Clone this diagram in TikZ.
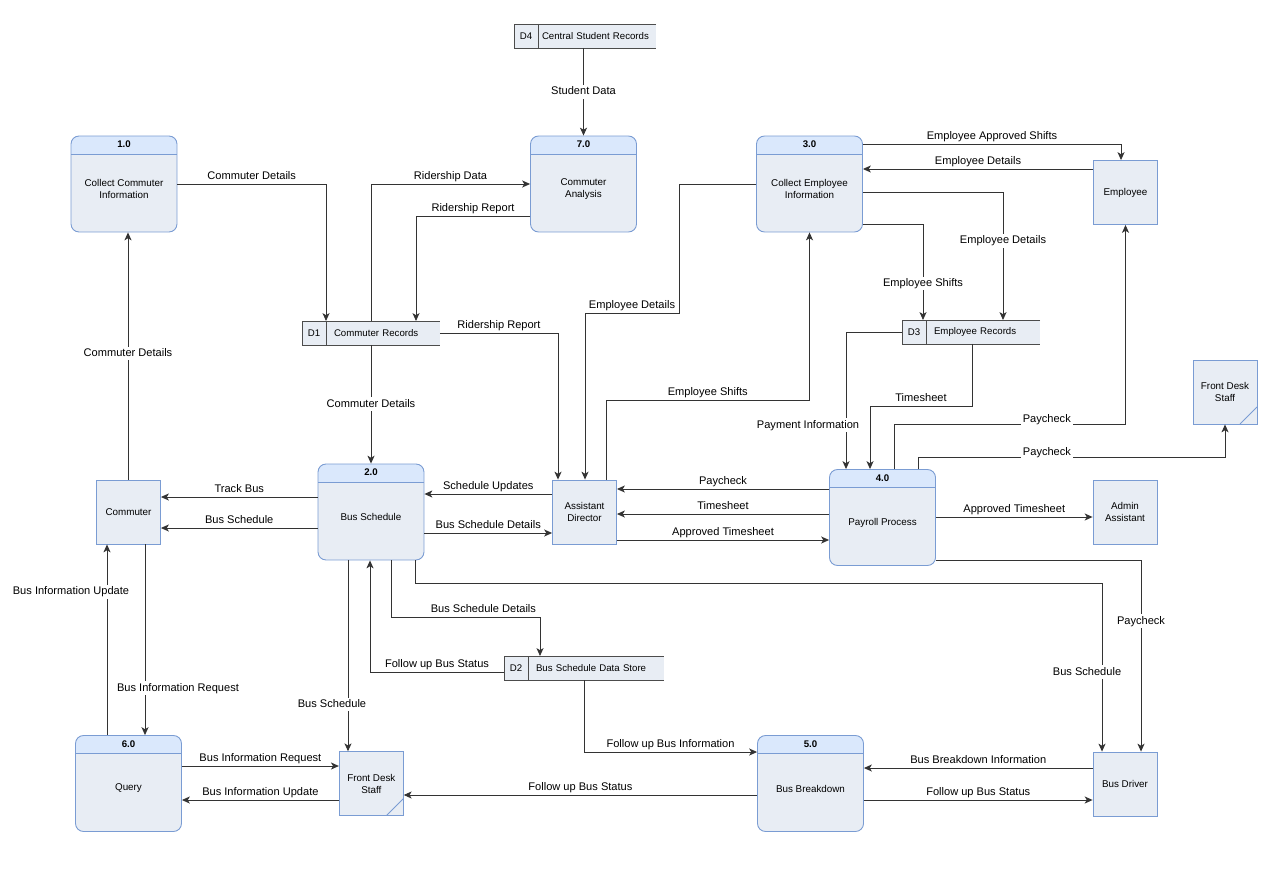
\documentclass[tikz,border=0pt]{standalone}
\usepackage{fontspec}
\setmainfont{Liberation Sans}
\usetikzlibrary{positioning, arrows.meta}
\definecolor{procline}{HTML}{7A9CD3}
\definecolor{prochead}{HTML}{DAE8FC}
\definecolor{procbody}{HTML}{E8EDF4}
\definecolor{storefill}{HTML}{E8EDF4}
\definecolor{flowline}{HTML}{333333}

\begin{document}
\begin{tikzpicture}[
        x=0.02cm, y=-0.02cm,
        process/.style={draw=procline, fill=procbody, line width=0.5pt, rounded corners=0.16cm, minimum width=2.12cm, minimum height=1.92cm,
            path picture={\fill[prochead, sharp corners] (path picture bounding box.north west) rectangle ([yshift=-0.36cm]path picture bounding box.north east);
                \draw[procline, line width=0.4pt, sharp corners] ([yshift=-0.36cm]path picture bounding box.north west) -- ([yshift=-0.36cm]path picture bounding box.north east);}},
        procnum/.style={anchor=center, yshift=-0.18cm, inner sep=0pt, font=\bfseries\fontsize{5.5}{6.8}\selectfont},
        proctext/.style={anchor=center, yshift=-1.07cm, inner sep=0pt, align=center, font=\fontsize{5.6}{6.8}\selectfont},
        entity/.style={draw=procline, fill=procbody, line width=0.5pt, minimum width=1.28cm, minimum height=1.28cm, inner sep=0pt, align=center, font=\fontsize{5.6}{6.8}\selectfont},
        desk/.style={entity, path picture={\draw[procline, line width=0.5pt] ([xshift=-0.34cm]path picture bounding box.south east) -- ([yshift=0.34cm]path picture bounding box.south east);}},
        store/.style={fill=storefill, minimum height=0.48cm, outer sep=0pt, inner ysep=0pt, inner xsep=0.16cm, align=left, font=\fontsize{5.5}{6.8}\selectfont},
        storeid/.style={store, inner xsep=0pt, align=center, minimum width=0.48cm},
        storeline/.style={draw=black!70, line width=0.5pt},
        arrow/.style={draw=flowline, line width=0.5pt, -{Stealth[length=4.5pt, width=4pt, inset=1.2pt]}},
        lbl/.style={inner sep=1pt, text height=4.6pt, text depth=1.3pt, font=\fontsize{6.3}{7.5}\selectfont},
        onl/.style={lbl, fill=white}
    ]
    \path[use as bounding box, fill=white] (0,0) rectangle (1266,878);
%
    % Nodes
    \node[process, label={[procnum]north:1.0}, label={[proctext]north:Collect Commuter\\Information}] (p1) at (124,184) {};
    \node[process, label={[procnum]north:7.0}, label={[proctext]north:Commuter\\Analysis}] (p7) at (583.5,184) {};
    \node[process, label={[procnum]north:3.0}, label={[proctext]north:Collect Employee\\Information}] (p3) at (809.5,184) {};
    \node[process, label={[procnum]north:2.0}, label={[proctext]north:Bus Schedule}] (p2) at (371,512) {};
    \node[process, label={[procnum]north:4.0}, label={[proctext]north:Payroll Process}] (p4) at (882.5,517.5) {};
    \node[process, label={[procnum]north:6.0}, label={[proctext]north:Query}] (p6) at (128.5,783.5) {};
    \node[process, label={[procnum]north:5.0}, label={[proctext]north:Bus Breakdown}] (p5) at (810.5,783.5) {};
%
    \node[entity] (com) at (128.5,512) {Commuter};
    \node[entity] (emp) at (1125.5,192.5) {Employee};
    \node[desk] (fds1) at (1225,392) {Front Desk\\Staff};
    \node[entity] (ad) at (584.5,512) {Assistant\\Director};
    \node[entity] (aa) at (1125,512) {Admin\\Assistant};
    \node[desk] (fds2) at (371.3,783.7) {Front Desk\\Staff};
    \node[entity] (bd) at (1125,784) {Bus Driver};
%
    \node[store, inner xsep=0.08cm, text width=2.2cm] (d4) at (597,36) {Central Student Records};
    \node[storeid, left=0pt of d4] (d4-id) {D4};
    \node[store, text width=1.96cm] (d1) at (383,333) {Commuter Records};
    \node[storeid, left=0pt of d1] (d1-id) {D1};
    \node[store, text width=1.96cm] (d3) at (983,332) {Employee Records};
    \node[storeid, left=0pt of d3] (d3-id) {D3};
    \node[store, text width=2.4cm] (d2) at (596,668) {Bus Schedule Data Store};
    \node[storeid, left=0pt of d2] (d2-id) {D2};
    \foreach \s in {d1,d2,d3,d4}
        \draw[storeline] (\s.north east) -- (\s-id.north west) -- (\s-id.south west) -- (\s.south east)
            (\s-id.north east) -- (\s-id.south east);
%
    % Arrows
    \draw[arrow] (p1) -| node[lbl, pos=0.25, above] {Commuter Details} (d1-id.north east);
    \draw[arrow] (d1.north -| p2) |- node[lbl, pos=0.75, above] {Ridership Data} (p7);
    \draw[arrow] (d1.south -| p2) -- node[onl] {Commuter Details} (p2);
    \draw[arrow] (p7.west |- 0,216) -| node[lbl, pos=0.25, above] {Ridership Report} (416,0 |- d1.north);
    \draw[arrow] (d1.east) -| node[lbl, pos=0.25, above] {Ridership Report} (ad.north -| 558,0);
    \draw[arrow] (d4.south -| p7) -- node[onl] {Student Data} (p7);
%
    \draw[arrow] (p3) -| (679,313) -| node[lbl, pos=0.25, above] {Employee Details} (ad.north -| 585,0);
    \draw[arrow] (ad.north -| 606,0) |- node[lbl, pos=0.75, above] {Employee Shifts} (p3.south |- 0,400) -- (p3.south);
    \draw[arrow] (p3.east |- 0,144) -| node[lbl, pos=0.25, above] {Employee Approved Shifts} (emp.north -| 1121,0);
    \draw[arrow] (emp.west |- 0,169) -- node[lbl, above] {Employee Details} (p3.east |- 0,169);
    \draw[arrow] (p3.east |- 0,192) -| node[onl, pos=0.69] {Employee Details} (d3.north -| 1003,0);
    \draw[arrow] (p3.east |- 0,224) -| node[onl, pos=0.81] {Employee Shifts} (d3.north -| 923,0);
%
    \draw[arrow] (d3-id.west) -| node[onl, pos=0.84, xshift=-0.76cm] {Payment Information} (p4.north -| 846,0);
    \draw[arrow] (d3.south -| 972,0) |- node[lbl, pos=0.75, above] {Timesheet} (870,406) -- (p4.north -| 870,0);
    \draw[arrow] (p4.north -| 894,0) |- node[onl, pos=0.83, yshift=0.08cm] {Paycheck} (emp.south |- 0,424) -- (emp.south);
    \draw[arrow] (p4.north -| 918,0) |- node[onl, pos=0.71, yshift=0.08cm] {Paycheck} (fds1.south |- 0,457) -- (fds1.south);
    \draw[arrow] (p4.west |- 0,489) -- node[lbl, above] {Paycheck} (ad.east |- 0,489);
    \draw[arrow] (p4.west |- 0,514) -- node[lbl, above] {Timesheet} (ad.east |- 0,514);
    \draw[arrow] (ad.east |- 0,540) -- node[lbl, above] {Approved Timesheet} (p4.west |- 0,540);
    \draw[arrow] (p4.east |- 0,517) -- node[lbl, above] {Approved Timesheet} (aa.west |- 0,517);
    \draw[arrow] (p4.east |- 0,560) -| node[onl, pos=0.66] {Paycheck} (bd.north -| 1141,0);
%
    \draw[arrow] (p2.south -| 415,0) |- (1102,583) -- node[onl, pos=0.53, xshift=-0.3cm] {Bus Schedule} (bd.north -| 1102,0);
    \draw[arrow] (ad.west |- 0,494) -- node[lbl, above] {Schedule Updates} (p2.east |- 0,494);
    \draw[arrow] (p2.east |- 0,533) -- node[lbl, above] {Bus Schedule Details} (ad.west |- 0,533);
    \draw[arrow] (p2.west |- 0,497) -- node[lbl, above] {Track Bus} (com.east |- 0,497);
    \draw[arrow] (p2.west |- 0,528) -- node[lbl, above] {Bus Schedule} (com.east |- 0,528);
    \draw[arrow] (p2.south -| 391,0) |- node[lbl, pos=0.81, above] {Bus Schedule Details} (540,617) -- (d2.north -| 540,0);
    \draw[arrow] (d2-id.west |- 0,672) -| node[lbl, pos=0.25, above] {Follow up Bus Status} (p2.south -| 370,0);
    \draw[arrow] (p2.south -| 348,0) -- node[onl, pos=0.755, xshift=-0.32cm] {Bus Schedule} (fds2.north -| 348,0);
    \draw[arrow] (d2.south -| 584,0) |- node[lbl, pos=0.75, above] {Follow up Bus Information} (p5.west |- 0,752);
%
    \draw[arrow] (bd.west |- 0,768) -- node[lbl, above] {Bus Breakdown Information} (p5.east |- 0,768);
    \draw[arrow] (p5.east |- 0,800) -- node[lbl, above] {Follow up Bus Status} (bd.west |- 0,800);
    \draw[arrow] (p5.west |- 0,795) -- node[lbl, above] {Follow up Bus Status} (fds2.east |- 0,795);
    \draw[arrow] (p6.east |- 0,766) -- node[lbl, above] {Bus Information Request} (fds2.west |- 0,766);
    \draw[arrow] (fds2.west |- 0,800) -- node[lbl, above] {Bus Information Update} (p6.east |- 0,800);
    \draw[arrow] (com.south -| 145,0) -- node[onl, pos=0.755, xshift=0.66cm] {Bus Information Request} (p6.north -| 145,0);
    \draw[arrow] (p6.north -| 107,0) -- node[onl, pos=0.75, xshift=-0.72cm] {Bus Information Update} (com.south -| 107,0);
    \draw[arrow] (com.north -| 128,0) -- node[onl, pos=0.51] {Commuter Details} (p1.south -| 128,0);
%
\end{tikzpicture}
\end{document}
